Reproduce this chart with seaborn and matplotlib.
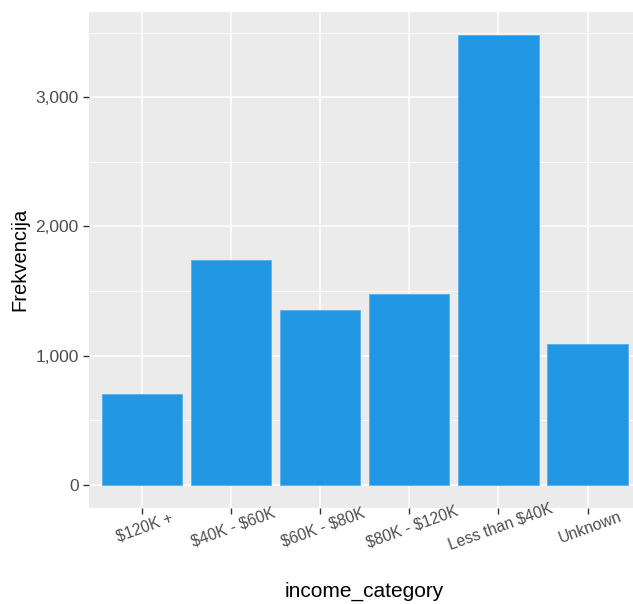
import matplotlib
matplotlib.use("Agg")
import matplotlib.pyplot as plt
import seaborn as sns
import pandas as pd
from matplotlib.ticker import FuncFormatter, MultipleLocator

categories = ["$120K +", "$40K - $60K", "$60K - $80K", "$80K - $120K", "Less than $40K", "Unknown"]
counts = [700, 1740, 1350, 1480, 3485, 1090]

df = pd.DataFrame({"income_category": categories, "Frekvencija": counts})

sns.set_theme(style="darkgrid")
plt.rcParams["font.family"] = ["Liberation Sans", "DejaVu Sans"]
plt.rcParams["text.parse_math"] = False

W, H = 633, 604
fig = plt.figure(figsize=(W / 100, H / 100), dpi=100)
left, right, top, bottom = 88.5, 641, 12, 507.5
ax = fig.add_axes([left / W, 1 - bottom / H, (right - left) / W, (bottom - top) / H])
ax.set_facecolor("#EBEBEB")

sns.barplot(data=df, x="income_category", y="Frekvencija", color="#2196E3",
            saturation=1, width=0.9, ax=ax, edgecolor="#5AB0EC", linewidth=0.6, zorder=3)

ymax = max(counts)
ax.set_ylim(-0.05 * ymax, 1.05 * ymax)
ax.set_xlim(-0.6, len(categories) - 0.4)
ax.yaxis.set_major_locator(MultipleLocator(1000))
ax.yaxis.set_minor_locator(MultipleLocator(500))
ax.yaxis.set_major_formatter(FuncFormatter(lambda v, p: f"{int(v):,}"))

ax.grid(which="major", color="white", linewidth=1.1, zorder=0)
ax.grid(which="minor", axis="y", color="white", linewidth=0.55, zorder=0)
ax.set_axisbelow(True)
for s in ax.spines.values():
    s.set_visible(False)

ax.tick_params(axis="both", which="major", length=4, width=1, color="#333333",
               labelcolor="#4D4D4D", direction="out")
ax.tick_params(axis="y", labelsize=12.5, pad=3, left=True)
ax.tick_params(axis="x", labelsize=11.3, pad=5, bottom=True)
ax.tick_params(axis="both", which="minor", length=0)
plt.setp(ax.get_xticklabels(), rotation=20, ha="center", va="top", rotation_mode="anchor")

ax.set_xlabel("income_category", fontsize=15, color="black", labelpad=21)
ax.set_ylabel("Frekvencija", fontsize=14.5, color="black", labelpad=4)

fig.savefig("out.png", dpi=100, facecolor="white")
